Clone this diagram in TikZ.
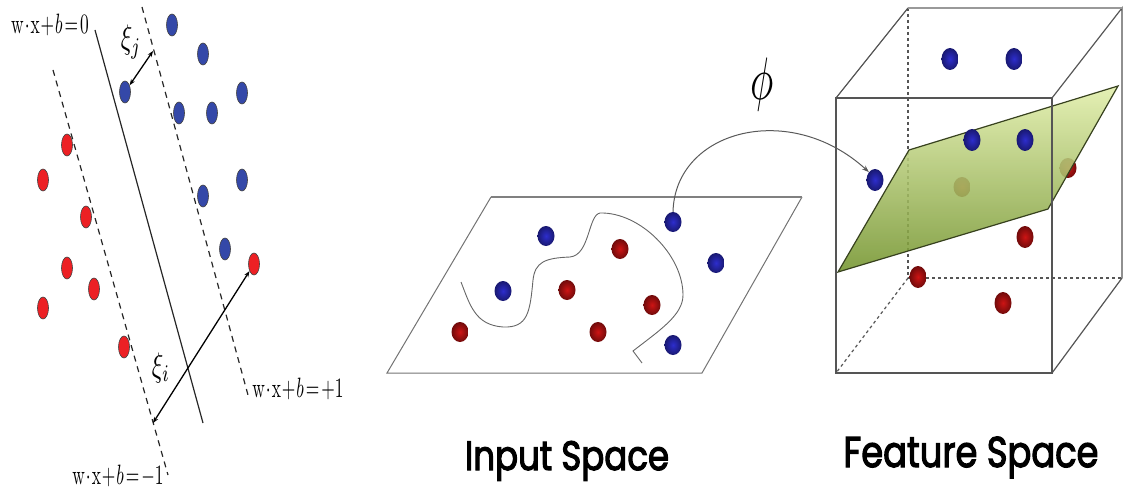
\documentclass[tikz,border=0pt]{standalone}
\usepackage{amsmath}
\usepackage{fontspec}
\newfontfamily\spacefont{Poppins}[FakeBold=3]
\usetikzlibrary{arrows.meta, shapes.geometric, calc}
\usepackage{xcolor}
\definecolor{flatred}{RGB}{236,32,36}
\definecolor{flatblue}{RGB}{52,72,168}
\definecolor{ballred}{RGB}{205,20,20}
\definecolor{ballblue}{RGB}{45,45,205}
\definecolor{planelight}{RGB}{225,238,170}
\definecolor{planedark}{RGB}{115,148,45}
\definecolor{planeedge}{RGB}{55,65,30}
\definecolor{boxline}{RGB}{85,85,85}
\newcommand{\eqtext}[1]{\scalebox{1.74}[2.8]{$\mathrm{w}\!\cdot\!\mathrm{x}\!+\!b\!=\!#1$}}
\tikzset{
  flatdot/.style={
    ellipse, draw=black!75, line width=0.6pt, fill=#1,
    minimum width=11pt, minimum height=22pt, inner sep=0pt
  },
  balldot/.style={
    ellipse, inner sep=0pt, minimum width=17pt, minimum height=20pt,
    inner color=#1, outer color=#1!55!black
  },
  hyper/.style={line width=1.2pt, draw=black!85},
  margin/.style={line width=1.2pt, draw=black!85, dash pattern=on 6pt off 5pt},
  gap/.style={{Stealth[length=6pt]}-{Stealth[length=6pt]}, line width=1.3pt},
  eqlabel/.style={inner sep=0pt},
  slack/.style={inner sep=0pt},
  edge/.style={draw=boxline, line width=1.2pt},
  hidden/.style={draw=boxline, line width=1.2pt, dash pattern=on 3pt off 3pt},
  mapping/.style={-{Stealth[length=7pt,width=5pt]}, draw=black!65, line width=1pt},
  spacename/.style={inner sep=0pt, anchor=base}
}

\begin{document}
\begin{tikzpicture}[x=1pt, y=-1pt]
  \useasboundingbox (0,0) rectangle (1126,489);

  % soft margin classifier
  \draw[hyper] (95,30) -- (203,423);
  \draw[margin] (142,7) -- (248,395);
  \draw[margin] (53,70) -- (168,475);

  \node[eqlabel] (eq0) at (50,25) {\eqtext{0}};
  \node[eqlabel] (eqp) at (298,389) {\eqtext{+1}};
  \node[eqlabel] (eqm) at (118,476) {\eqtext{-1}};

  \foreach \p [count=\i] in {(172,25),(203,54),(125,92),(179,113),(212,113),
                              (242,93),(203,196),(242,180),(225,249)}
    \node[flatdot=flatblue] (lb\i) at \p {};
  \foreach \p [count=\i] in {(67,145),(43,180),(86,217),(67,268),(94,289),
                              (43,308),(124,347),(254,264)}
    \node[flatdot=flatred] (lr\i) at \p {};

  \coordinate (xjend) at (153,51);
  \coordinate (xiend) at (153,423);
  \draw[gap] (lb3) -- (xjend);
  \draw[gap] (xiend) -- (lr8);
  \node[slack] (xij) at (131,42) {\scalebox{2.38}[3.4]{$\xi_j$}};
  \node[slack] (xii) at (161,368) {\scalebox{2.38}[3.4]{$\xi_i$}};

  % input space
  \draw[draw=black!55, line width=1pt] (491,197) -- (387,373) -- (702,373) -- (802,197);
  \draw[draw=black!50, line width=2pt] (491,197) -- (802,197);
  \draw[draw=black!60, line width=0.9pt] (461,282)
    .. controls (470,305) and (475,325) .. (503,327)
    .. controls (528,328) and (530,312) .. (533,280)
    .. controls (535,262) and (545,258) .. (570,257)
    .. controls (590,255) and (588,215) .. (600,213)
    .. controls (640,212) and (683,255) .. (683,295)
    .. controls (683,315) and (660,330) .. (633,351)
    -- (642,363);

  \foreach \p [count=\i] in {(546,236),(503,291),(673,222),(716,263),(673,345)}
    \node[balldot=ballblue] (mb\i) at \p {};
  \foreach \p [count=\i] in {(620,249),(567,290),(652,305),(598,332),(460,332)}
    \node[balldot=ballred] (mr\i) at \p {};

  % feature space
  \draw[hidden] (908,8) -- (908,278) -- (1122,278);
  \draw[hidden] (908,278) -- (836,373);

  \node[balldot=ballred] (cr4) at (1068,168) {};
  \node[balldot=ballred] (cr5) at (962,187) {};

  \path[top color=planelight, bottom color=planedark, fill opacity=0.88]
    (838,272) -- (909,150) -- (1118,86) -- (1048,209) -- cycle;
  \draw[draw=planeedge, line width=1.2pt]
    (838,272) -- (909,150) -- (1118,86) -- (1048,209) -- cycle;

  \draw[edge] (836,98) rectangle (1052,373);
  \draw[edge] (836,98) -- (908,8);
  \draw[edge] (1052,98) -- (1122,8) -- (1122,278) -- (1052,373);
  \draw[draw=black!40, line width=2pt] (908,8) -- (1122,8);

  \foreach \p [count=\i] in {(950,59),(1014,59),(972,140),(1025,140),(875,180)}
    \node[balldot=ballblue, minimum height=22pt] (cb\i) at \p {};
  \foreach \p [count=\i] in {(1025,237),(918,277),(1003,303)}
    \node[balldot=ballred, minimum height=22pt] (cr\i) at \p {};

  \draw[mapping] (mb3.north) .. controls (675,130) and (790,100) .. (cb5.north west);
  \node[inner sep=0pt] (phi) at (762,85) {\scalebox{3.9}[6]{$\phi$}};

  \node[spacename, font=\spacefont\fontsize{41}{41}\selectfont] (inname) at (567,470)
    {\scalebox{0.83}[1]{Input Space}};
  \node[spacename, font=\spacefont\fontsize{43}{43}\selectfont] (ftname) at (971,467)
    {\scalebox{0.82}[1]{Feature Space}};
\end{tikzpicture}
\end{document}
